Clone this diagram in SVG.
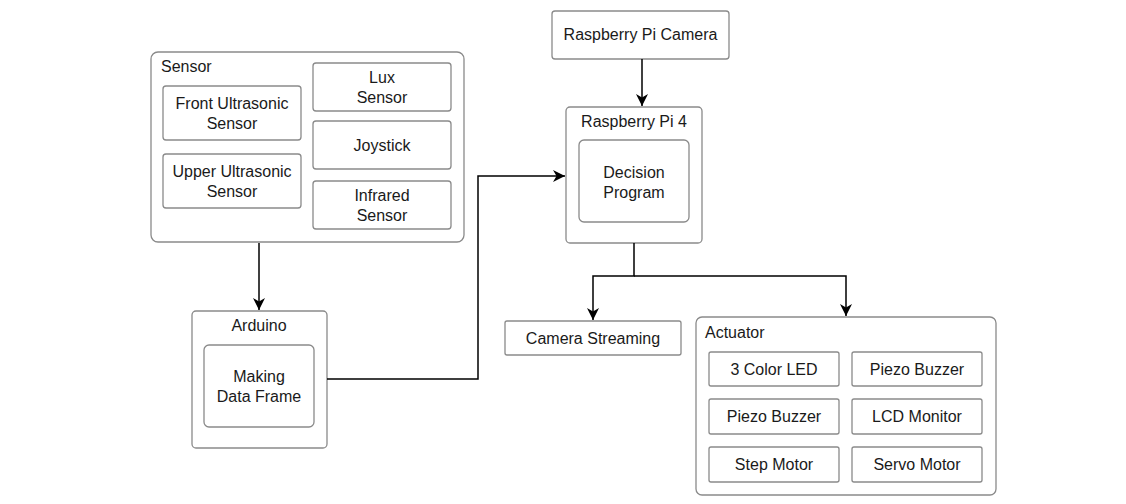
<svg xmlns="http://www.w3.org/2000/svg" width="1126" height="504" viewBox="0 0 1126 504">
<defs>
<marker id="arr" markerUnits="userSpaceOnUse" markerWidth="14" markerHeight="14" viewBox="0 0 14 14" refX="12" refY="7" orient="auto">
<path d="M0,1 L12,7 L0,13 L3.5,7 Z" fill="#000"/>
</marker>
</defs>
<style>
rect{fill:#fff;stroke:#8a8a8a;stroke-width:1.3}
text{font-family:"Liberation Sans",Arial,sans-serif;font-size:16px;fill:#1a1a1a}
.c{text-anchor:middle}
.e path{fill:none;stroke:#000;stroke-width:1.5;marker-end:url(#arr)}
</style>
<rect x="0" y="0" width="1126" height="504" style="fill:#fff;stroke:none"/>
<g id="sensor">
<rect x="151" y="52" width="313" height="190" rx="7"/>
<text x="161" y="72">Sensor</text>
</g>
<g id="front-us"><rect x="163" y="86" width="138" height="54" rx="3"/><text class="c" x="232" y="109">Front Ultrasonic</text><text class="c" x="232" y="129">Sensor</text></g>
<g id="upper-us"><rect x="163" y="154" width="138" height="54" rx="3"/><text class="c" x="232" y="177">Upper Ultrasonic</text><text class="c" x="232" y="197">Sensor</text></g>
<g id="lux"><rect x="313" y="63" width="138" height="48" rx="3"/><text class="c" x="382" y="83">Lux</text><text class="c" x="382" y="103">Sensor</text></g>
<g id="joystick"><rect x="313" y="121" width="138" height="48" rx="3"/><text class="c" x="382" y="151">Joystick</text></g>
<g id="infrared"><rect x="313" y="181" width="138" height="48" rx="3"/><text class="c" x="382" y="201">Infrared</text><text class="c" x="382" y="221">Sensor</text></g>
<g id="arduino"><rect x="192" y="311" width="135" height="137" rx="4"/><text class="c" x="259" y="331">Arduino</text></g>
<g id="making"><rect x="204" y="345" width="110" height="82" rx="5"/><text class="c" x="259" y="382">Making</text><text class="c" x="259" y="402">Data Frame</text></g>
<g id="camera"><rect x="552" y="11" width="177" height="48" rx="3"/><text class="c" x="640.5" y="40">Raspberry Pi Camera</text></g>
<g id="rpi4"><rect x="566" y="107" width="136" height="136" rx="4"/><text class="c" x="634" y="127">Raspberry Pi 4</text></g>
<g id="decision"><rect x="579" y="140" width="110" height="82" rx="5"/><text class="c" x="634" y="178">Decision</text><text class="c" x="634" y="198">Program</text></g>
<g id="streaming"><rect x="505" y="321" width="176" height="34" rx="2"/><text class="c" x="593" y="344">Camera Streaming</text></g>
<g id="actuator"><rect x="696" y="317" width="300" height="178" rx="6"/><text x="705" y="338">Actuator</text></g>
<g id="led"><rect x="709" y="352" width="130" height="34" rx="2"/><text class="c" x="774" y="375">3 Color LED</text></g>
<g id="piezo1"><rect x="852" y="352" width="130" height="34" rx="2"/><text class="c" x="917" y="375">Piezo Buzzer</text></g>
<g id="piezo2"><rect x="709" y="399" width="130" height="35" rx="2"/><text class="c" x="774" y="422">Piezo Buzzer</text></g>
<g id="lcd"><rect x="852" y="399" width="130" height="35" rx="2"/><text class="c" x="917" y="422">LCD Monitor</text></g>
<g id="step"><rect x="709" y="447" width="130" height="35" rx="2"/><text class="c" x="774" y="470">Step Motor</text></g>
<g id="servo"><rect x="852" y="447" width="130" height="35" rx="2"/><text class="c" x="917" y="470">Servo Motor</text></g>
<g id="connectors" class="e">
<path d="M642 59 V106"/>
<path d="M259 243 V310"/>
<path d="M327 379 H478 V176 H565"/>
<path d="M634 243 V276 H593 V320"/>
<path d="M634 276 H846 V316"/>
</g>
</svg>
